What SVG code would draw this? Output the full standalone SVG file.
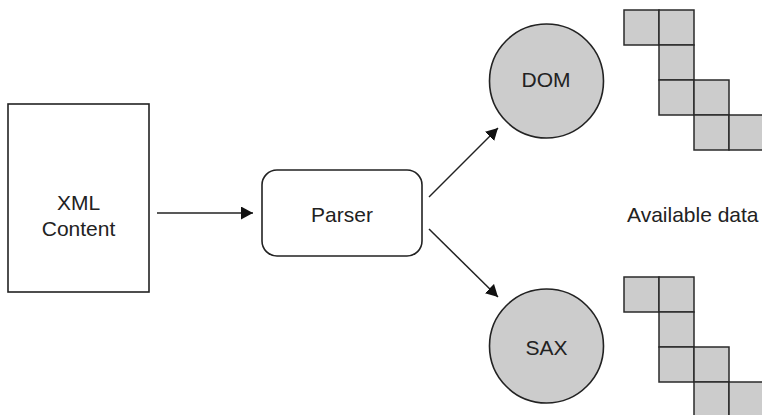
<svg xmlns="http://www.w3.org/2000/svg" width="762" height="415" viewBox="0 0 762 415">
  <style>
    .box { fill: #ffffff; stroke: #222222; stroke-width: 1.6; }
    .ball { fill: #cccccc; stroke: #222222; stroke-width: 1.6; }
    .cell { fill: #cccccc; stroke: #2a2a2a; stroke-width: 1.5; }
    .edge { fill: none; stroke: #222222; stroke-width: 1.5; marker-end: url(#head); }
    .lbl { font-family: "Liberation Sans", Arial, sans-serif; font-size: 21px; fill: #222222; }
    .mid { text-anchor: middle; }
  </style>
  <defs>
    <marker id="head" markerUnits="userSpaceOnUse" markerWidth="13" markerHeight="13" refX="12" refY="6.5" orient="auto">
      <path d="M0,0 L12,6.5 L0,13 Z" fill="#111111"/>
    </marker>
    <!-- staircase of seven cells, 35px each -->
    <g id="stair">
      <rect class="cell" x="0" y="0" width="35" height="35"/>
      <rect class="cell" x="35" y="0" width="35" height="35"/>
      <rect class="cell" x="35" y="35" width="35" height="35"/>
      <rect class="cell" x="35" y="70" width="35" height="35"/>
      <rect class="cell" x="70" y="70" width="35" height="35"/>
      <rect class="cell" x="70" y="105" width="35" height="35"/>
      <rect class="cell" x="105" y="105" width="35" height="35"/>
    </g>
  </defs>

  <g id="connectors">
    <line class="edge" x1="157" y1="213" x2="253" y2="213"/>
    <line class="edge" x1="429" y1="197" x2="498" y2="128"/>
    <line class="edge" x1="429" y1="229" x2="498" y2="297"/>
  </g>

  <g id="xml-content">
    <rect class="box" x="8" y="104" width="141" height="188"/>
    <text class="lbl mid" x="78.5" y="210">XML</text>
    <text class="lbl mid" x="78.5" y="236">Content</text>
  </g>

  <g id="parser">
    <rect class="box" x="262" y="170" width="160" height="86" rx="15" ry="15"/>
    <text class="lbl mid" x="342" y="222">Parser</text>
  </g>

  <g id="dom">
    <circle class="ball" cx="546.5" cy="81" r="57"/>
    <text class="lbl mid" x="546" y="87">DOM</text>
  </g>

  <g id="sax">
    <circle class="ball" cx="546.5" cy="346" r="57"/>
    <text class="lbl mid" x="546.5" y="355">SAX</text>
  </g>

  <g id="dom-data">
    <use href="#stair" x="624" y="10"/>
  </g>

  <g id="sax-data">
    <use href="#stair" x="624" y="277"/>
  </g>

  <g id="available-data">
    <text class="lbl" x="627" y="222">Available data</text>
  </g>
</svg>
